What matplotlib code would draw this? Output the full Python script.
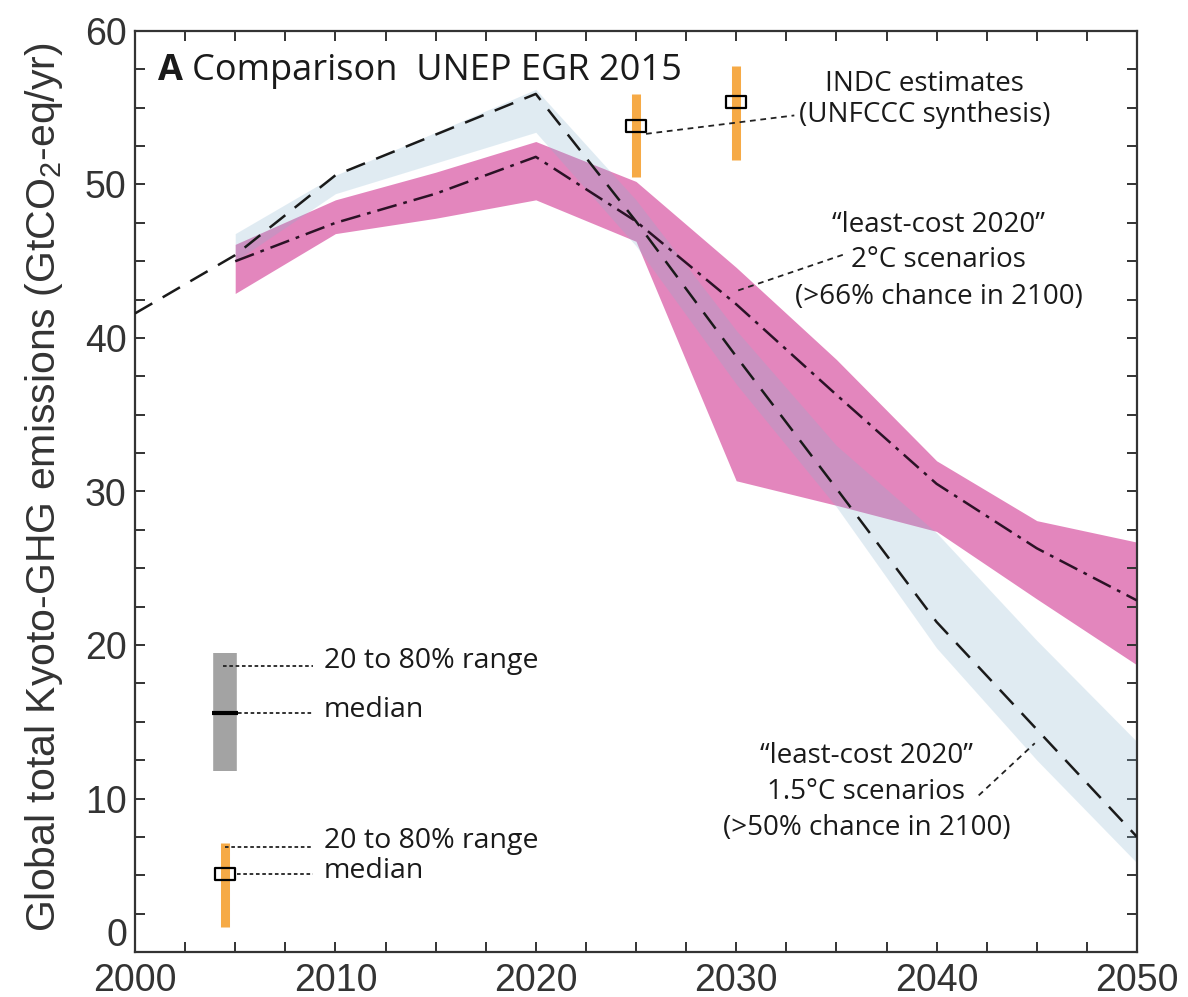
import numpy as np
import matplotlib.pyplot as plt
from matplotlib.path import Path
from matplotlib.ticker import MultipleLocator, FuncFormatter
from matplotlib import font_manager

# 1.5C "least-cost 2020" scenarios: median and 20-80% range
years_15 = [2000, 2005, 2010, 2020, 2025, 2030, 2035, 2040, 2045, 2050]
median_15 = [41.6, 45.4, 50.6, 55.9, 47.6, 38.8, 30.2, 21.5, 14.5, 7.5]
band_years_15 = [2005, 2010, 2020, 2025, 2030, 2035, 2040, 2045, 2050]
hi_15 = [46.8, 50.6, 56.2, 49.0, 40.5, 33.0, 27.3, 20.3, 13.7]
lo_15 = [45.0, 49.4, 53.4, 46.0, 37.0, 29.0, 19.8, 12.5, 5.8]

# 2C "least-cost 2020" scenarios
years_2 = [2005, 2010, 2015, 2020, 2025, 2030, 2035, 2040, 2045, 2050]
median_2 = [45.0, 47.5, 49.4, 51.8, 47.6, 42.2, 36.3, 30.5, 26.3, 22.9]
hi_2 = [46.1, 49.0, 50.8, 52.8, 50.2, 44.6, 38.6, 32.0, 28.1, 26.7]
lo_2 = [42.9, 46.8, 47.8, 49.0, 46.3, 30.7, 29.1, 27.4, 23.0, 18.7]

# INDC estimates (UNFCCC synthesis)
indc_years = [2025, 2030]
indc_lo = [50.5, 51.6]
indc_hi = [55.9, 57.7]
indc_med = [53.8, 55.4]

# key symbols drawn inside the plot
key_year = 2004.5
key_gray = (11.8, 19.5, 15.6)    # low, high, median
key_orange = (1.6, 7.1, 5.1)

pink = '#e386bd'
blue = (135 / 255, 179 / 255, 207 / 255)
orange = '#f6aa46'

names = {f.name for f in font_manager.fontManager.ttflist}
axis_font = 'Liberation Sans'
ylab_font = 'Liberation Sans Narrow' if 'Liberation Sans Narrow' in names else 'Liberation Sans'
txt_font = 'Open Sans'
plt.rcParams['mathtext.fontset'] = 'custom'
plt.rcParams['mathtext.rm'] = ylab_font
plt.rcParams['mathtext.it'] = ylab_font

fig = plt.figure(figsize=(11.88, 9.97), dpi=100)
ax = fig.add_axes([135 / 1188, 45 / 997, 1002 / 1188, 921 / 997])

# bands
ax.fill_between(years_2, lo_2, hi_2, color=pink, lw=0, zorder=1)
ax.fill_between(band_years_15, lo_15, hi_15, color=blue, alpha=0.25, lw=0, zorder=2)

# medians
ax.plot(years_15, median_15, color='#1a1a1a', lw=1.8, dashes=(8, 4.8), zorder=4)
ax.plot(years_2, median_2, color='#2b1226', lw=1.8, dashes=(8, 2.8, 1.5, 2.8), zorder=4)

# INDC bars with median boxes
box = Path([(-1, -0.6), (1, -0.6), (1, 0.6), (-1, 0.6), (-1, -0.6)],
           [Path.MOVETO, Path.LINETO, Path.LINETO, Path.LINETO, Path.CLOSEPOLY])
ax.vlines(indc_years, indc_lo, indc_hi, color=orange, lw=6.5, zorder=5)
ax.plot(indc_years, indc_med, ls='none', marker=box, ms=15, mfc='none',
        mec='black', mew=1.6, zorder=6)

# key symbols
ax.vlines([key_year], key_gray[0], key_gray[1], color='#a3a3a3', lw=17, zorder=5)
ax.hlines([key_gray[2]], key_year - 0.65, key_year + 0.65, color='black', lw=3, zorder=6)
ax.vlines([key_year], key_orange[0], key_orange[1], color=orange, lw=6.5, zorder=5)
ax.plot([key_year], [key_orange[2]], ls='none', marker=box, ms=15, mfc='none',
        mec='black', mew=1.6, zorder=6)

fine = dict(color='#222222', lw=1.3, ls=(0, (2, 1.5)), zorder=7)
ax.plot([2004.4, 2008.9], [18.6, 18.6], **fine)
ax.plot([2005.15, 2008.9], [key_gray[2], key_gray[2]], **fine)
ax.plot([2004.5, 2008.9], [6.85, 6.85], **fine)
ax.plot([2005.1, 2008.9], [key_orange[2], key_orange[2]], **fine)

lead = dict(color='#222222', lw=1.3, ls=(0, (3.2, 2.6)), zorder=7)
ax.plot([2025.5, 2032.9], [53.3, 54.5], **lead)
ax.plot([2030.1, 2035.5], [43.1, 45.5], **lead)
ax.plot([2042.1, 2044.9], [10.2, 13.6], **lead)

# texts
tk = dict(fontfamily=txt_font, color='#1a1a1a', va='baseline')
ax.text(2001.15, 56.8, 'A', fontsize=26, fontweight='bold', **tk)
ax.text(2002.85, 56.8, 'Comparison  UNEP EGR 2015', fontsize=26, **tk)
ax.text(2039.4, 56.1, 'INDC estimates', fontsize=20, ha='center', **tk)
ax.text(2039.4, 54.1, '(UNFCCC synthesis)', fontsize=20, ha='center', **tk)
ax.text(2040.1, 46.9, '\u201cleast-cost 2020\u201d', fontsize=20, ha='center', **tk)
ax.text(2040.1, 44.6, '2\u00b0C scenarios', fontsize=20, ha='center', **tk)
ax.text(2040.1, 42.2, '(>66% chance in 2100)', fontsize=20, ha='center', **tk)
ax.text(2036.5, 12.3, '\u201cleast-cost 2020\u201d', fontsize=20, ha='center', **tk)
ax.text(2036.5, 10.0, '1.5\u00b0C scenarios', fontsize=20, ha='center', **tk)
ax.text(2036.5, 7.6, '(>50% chance in 2100)', fontsize=20, ha='center', **tk)
ax.text(2009.43, 18.5, '20 to 80% range', fontsize=20.5, **tk)
ax.text(2009.43, 15.3, 'median', fontsize=20.5, **tk)
ax.text(2009.43, 6.8, '20 to 80% range', fontsize=20.5, **tk)
ax.text(2009.43, 4.8, 'median', fontsize=20.5, **tk)

# axes
ax.set_xlim(2000, 2050)
ax.set_ylim(0, 60)
ax.xaxis.set_major_locator(MultipleLocator(10))
ax.xaxis.set_minor_locator(MultipleLocator(2.5))
ax.yaxis.set_major_locator(MultipleLocator(10))
ax.yaxis.set_minor_locator(MultipleLocator(2.5))
# the "0" is drawn separately, lifted so it clears "2000"
ax.yaxis.set_major_formatter(FuncFormatter(lambda v, p: '' if v == 0 else f'{v:.0f}'))
ax.tick_params(which='both', direction='in', top=True, right=True, length=7,
               width=1.4, color='#333333')
ax.tick_params(axis='x', pad=8)
ax.tick_params(axis='y', pad=6)
for lab in ax.get_xticklabels() + ax.get_yticklabels():
    lab.set_fontfamily(axis_font)
    lab.set_fontsize(27)
    lab.set_color('#333333')
for sp in ax.spines.values():
    sp.set_linewidth(1.6)
    sp.set_color('#333333')

ax.annotate('0', xy=(0, 0), xycoords=('axes fraction', 'data'),
            xytext=(-8, 16), textcoords='offset pixels', ha='right', va='center',
            fontsize=27, fontfamily=axis_font, color='#333333', annotation_clip=False)

fig.text(44 / 1188, 1 - 487 / 997,
         'Global total Kyoto-GHG emissions (GtCO$_2$-eq/yr)',
         rotation=90, ha='center', va='center', fontsize=29.5,
         fontfamily=ylab_font, color='#333333')

fig.savefig('out.png', dpi=100)
